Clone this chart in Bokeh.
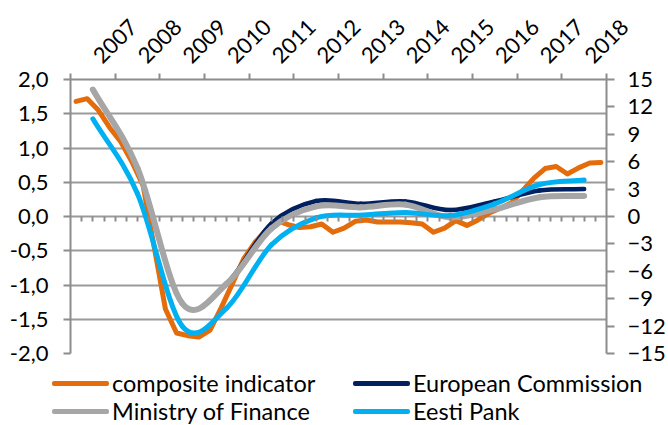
import numpy as np
from bokeh.plotting import figure
from bokeh.layouts import column
from bokeh.models import (Range1d, LinearAxis, FixedTicker, CustomJSTickFormatter, Div)
from bokeh.embed import file_html
from bokeh.resources import INLINE

# ---------------- data ----------------
years = list(range(2007, 2019))
year_labels = [str(y) for y in years]

# composite indicator, quarterly 2007Q1..2018Q4 (left axis)
composite = [1.68, 1.72, 1.55, 1.30, 1.09, 0.80, 0.45, -0.45,
             -1.35, -1.70, -1.74, -1.76, -1.66, -1.33, -0.98, -0.62,
             -0.38, -0.20, -0.06, -0.12, -0.16, -0.15, -0.11, -0.23,
             -0.17, -0.07, -0.05, -0.08, -0.08, -0.08, -0.09, -0.11,
             -0.23, -0.17, -0.06, -0.13, -0.05, 0.05, 0.12, 0.20,
             0.38, 0.56, 0.70, 0.73, 0.62, 0.71, 0.78, 0.79]

# output gap estimates, annual 2007..2018 (right axis, %)
european_commission = [13.9, 5.3, -9.5, -7.3, -0.75, 1.7, 1.4, 1.65, 0.7, 1.65, 2.85, 3.0]
ministry_of_finance = [13.9, 5.3, -9.5, -7.35, -1.3, 1.1, 1.0, 1.3, -0.1, 0.8, 2.1, 2.25]
eesti_pank = [10.7, 2.5, -12.0, -10.0, -3.1, -0.15, 0.15, 0.45, 0.1, 1.4, 3.5, 4.0]

series_names = ["composite indicator", "European Commission",
                "Ministry of Finance", "Eesti Pank"]

left_ticks = [-2.0, -1.5, -1.0, -0.5, 0.0, 0.5, 1.0, 1.5, 2.0]
right_ticks = [-15, -12, -9, -6, -3, 0, 3, 6, 9, 12, 15]

# ---------------- style ----------------
FONT = "Lato"
ORANGE = "#E46C0A"
NAVY = "#002060"
GRAY = "#A6A6A6"
BLUE = "#00B0F0"
AXIS = "#8C8C8C"
GRID = "#9A9A9A"
series_colors = [ORANGE, NAVY, GRAY, BLUE]

W = 668
H_MAIN = 367
H_LEG = 58

p = figure(width=W, height=H_MAIN, output_backend="svg", toolbar_location=None,
           x_range=Range1d(years[0], years[-1] + 1), y_range=Range1d(-2, 2),
           x_axis_location="above",
           min_border_left=70, min_border_right=54, min_border_top=79, min_border_bottom=14)
p.extra_y_ranges = {"right": Range1d(-15, 15)}
p.outline_line_color = None
p.xgrid.visible = False
p.ygrid.ticker = FixedTicker(ticks=left_ticks)
p.ygrid.grid_line_color = GRID
p.ygrid.grid_line_width = 2

# top (year) axis; rotated labels start a little right of each year's centre
label_pos = [y + 0.6 for y in years]
xa = p.xaxis[0]
xa.ticker = FixedTicker(ticks=label_pos, minor_ticks=years + [years[-1] + 1])
xa.formatter = CustomJSTickFormatter(code="return String(Math.floor(tick));")
xa.major_tick_line_color = None
xa.major_tick_out = 0
xa.major_tick_in = 0
xa.minor_tick_out = 6
xa.minor_tick_in = 0
xa.minor_tick_line_color = AXIS
xa.minor_tick_line_width = 2
xa.axis_line_color = AXIS
xa.axis_line_width = 2
xa.major_label_orientation = np.pi / 4
xa.major_label_standoff = 14
xa.major_label_text_font = FONT
xa.major_label_text_font_size = "22px"
xa.major_label_text_color = "black"

# left axis
ya = p.yaxis[0]
ya.ticker = FixedTicker(ticks=left_ticks)
ya.formatter = CustomJSTickFormatter(code="return tick.toFixed(1).replace('.', ',');")
ya.major_tick_out = 7
ya.major_tick_in = 0
ya.minor_tick_line_color = None
ya.major_tick_line_color = AXIS
ya.major_tick_line_width = 2
ya.axis_line_color = AXIS
ya.axis_line_width = 2
ya.major_label_standoff = 15
ya.major_label_text_font = FONT
ya.major_label_text_font_size = "22px"
ya.major_label_text_color = "black"

# right axis
ra = LinearAxis(y_range_name="right", ticker=FixedTicker(ticks=right_ticks))
ra.major_tick_out = 8
ra.major_tick_in = 0
ra.minor_tick_line_color = None
ra.major_tick_line_color = AXIS
ra.major_tick_line_width = 2
ra.axis_line_color = AXIS
ra.axis_line_width = 2
ra.major_label_standoff = 13
ra.major_label_text_font = FONT
ra.major_label_text_font_size = "22px"
ra.major_label_text_color = "black"
p.add_layout(ra, "right")

# quarterly ticks hanging below the zero line
quarter_bounds = [years[0] + k / 4 for k in range(1, 4 * len(years))]
za = LinearAxis(fixed_location=0, ticker=FixedTicker(ticks=quarter_bounds))
za.formatter = CustomJSTickFormatter(code="return '';")
za.axis_line_color = None
za.major_tick_out = 0
za.major_tick_in = 5
za.major_tick_line_color = AXIS
za.major_tick_line_width = 2
za.minor_tick_line_color = None
za.major_label_standoff = 0
za.major_label_text_font_size = "1px"
p.add_layout(za, "above")

# ---------------- series ----------------
q_x = [years[0] + (i + 0.5) / 4 for i in range(len(composite))]
year_centers = [y + 0.5 for y in years]

p.line(q_x, composite, line_color=ORANGE, line_width=5,
       line_join="round", line_cap="round")


def smooth(xs, ys, color, width):
    n = len(ys)
    ext = [2 * ys[0] - ys[1]] + list(ys) + [2 * ys[-1] - ys[-2]]
    cx0 = [xs[i] + (xs[i + 1] - xs[i]) / 3 for i in range(n - 1)]
    cx1 = [xs[i + 1] - (xs[i + 1] - xs[i]) / 3 for i in range(n - 1)]
    cy0 = [ys[i] + (ext[i + 2] - ext[i]) / 6 for i in range(n - 1)]
    cy1 = [ys[i + 1] - (ext[i + 3] - ext[i + 1]) / 6 for i in range(n - 1)]
    return p.bezier(x0=xs[:-1], y0=ys[:-1], x1=xs[1:], y1=ys[1:],
                    cx0=cx0, cy0=cy0, cx1=cx1, cy1=cy1,
                    line_color=color, line_width=width, line_cap="round",
                    y_range_name="right")


smooth(year_centers, european_commission, NAVY, 4.5)
smooth(year_centers, ministry_of_finance, GRAY, 6)
smooth(year_centers, eesti_pank, BLUE, 5)

# ---------------- legend strip (two columns, two rows) ----------------
col_left = [52, 353]
row_top = [2, 30]
items_html = []
for k, (name, color) in enumerate(zip(series_names, series_colors)):
    left = col_left[k % 2]
    top = row_top[k // 2]
    items_html.append(
        f'<div style="position:absolute;left:{left}px;top:{top}px;height:28px;'
        f'display:flex;align-items:center;white-space:nowrap;">'
        f'<span style="display:inline-block;width:57px;height:5px;border-radius:2px;'
        f'background:{color};margin-right:3px;"></span>'
        f'<span>{name}</span></div>')
legend_html = (f'<div style="position:relative;width:{W}px;height:{H_LEG}px;overflow:hidden;'
               f'font-family:{FONT};font-size:23.5px;line-height:28px;color:#000;">'
               + "".join(items_html) + '</div>')
legend = Div(text=legend_html, width=W, height=H_LEG, margin=(0, 0, 0, 0))

layout = column(p, legend, spacing=0)
open("out.html", "w").write(file_html(layout, INLINE))
